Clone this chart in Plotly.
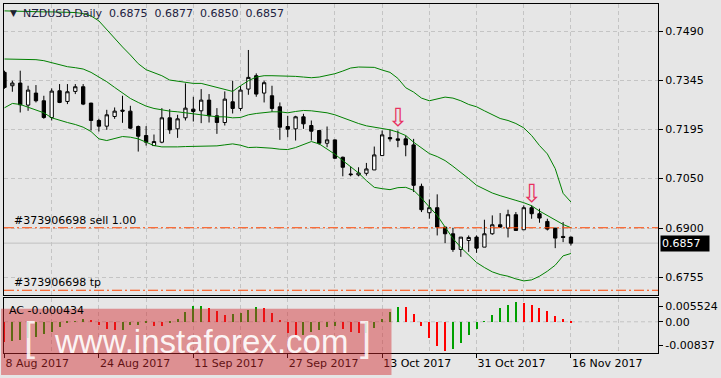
import pandas as pd
import plotly.graph_objects as go

# ---------------- data ----------------
dates = pd.bdate_range("2017-08-08", "2017-11-16")

opens = [0.7368, 0.7328, 0.7336, 0.7270, 0.7306, 0.7283, 0.7233, 0.7313, 0.7281, 0.7311,
         0.7325, 0.7276, 0.7224, 0.7207, 0.7236, 0.7255, 0.7252, 0.7206, 0.7179, 0.7149,
         0.7159, 0.7232, 0.7199, 0.7232, 0.7258, 0.7253, 0.7285, 0.7238, 0.7218, 0.7280,
         0.7260, 0.7318, 0.7358, 0.7306, 0.7298, 0.7265, 0.7206, 0.7199, 0.7235, 0.7209,
         0.7194, 0.7156, 0.7166, 0.7114, 0.7064, 0.7061, 0.7066, 0.7076, 0.7119, 0.7173,
         0.7169, 0.7169, 0.7151, 0.7027, 0.6948, 0.6963, 0.6905, 0.6885, 0.6838, 0.6865,
         0.6875, 0.6845, 0.6885, 0.6912, 0.6902, 0.6942, 0.6897, 0.6963, 0.6945, 0.6922,
         0.6902, 0.6877, 0.6875]
highs = [0.7373, 0.7343, 0.7373, 0.7328, 0.7330, 0.7298, 0.7320, 0.7333, 0.7333, 0.7333,
         0.7333, 0.7277, 0.7229, 0.7256, 0.7263, 0.7298, 0.7268, 0.7209, 0.7207, 0.7182,
         0.7261, 0.7258, 0.7241, 0.7335, 0.7295, 0.7318, 0.7303, 0.7261, 0.7311, 0.7343,
         0.7327, 0.7435, 0.7365, 0.7343, 0.7328, 0.7278, 0.7238, 0.7238, 0.7244, 0.7224,
         0.7195, 0.7206, 0.7167, 0.7116, 0.7086, 0.7084, 0.7097, 0.7146, 0.7194, 0.7197,
         0.7194, 0.7179, 0.7169, 0.7035, 0.6988, 0.7003, 0.6905, 0.6903, 0.6875, 0.6880,
         0.6880, 0.6927, 0.6940, 0.6947, 0.6957, 0.6950, 0.6970, 0.6970, 0.6960, 0.6930,
         0.6902, 0.6920, 0.6877]
lows = [0.7319, 0.7310, 0.7248, 0.7253, 0.7278, 0.7229, 0.7224, 0.7276, 0.7273, 0.7303,
        0.7270, 0.7194, 0.7191, 0.7196, 0.7229, 0.7217, 0.7199, 0.7131, 0.7149, 0.7148,
        0.7156, 0.7184, 0.7172, 0.7224, 0.7221, 0.7216, 0.7218, 0.7184, 0.7209, 0.7245,
        0.7253, 0.7301, 0.7295, 0.7278, 0.7250, 0.7166, 0.7174, 0.7164, 0.7199, 0.7164,
        0.7151, 0.7144, 0.7109, 0.7057, 0.7057, 0.7057, 0.7059, 0.7076, 0.7119, 0.7161,
        0.7144, 0.7117, 0.7010, 0.6950, 0.6930, 0.6880, 0.6857, 0.6831, 0.6816, 0.6831,
        0.6828, 0.6845, 0.6882, 0.6903, 0.6874, 0.6895, 0.6897, 0.6930, 0.6918, 0.6895,
        0.6842, 0.6860, 0.6850]
closes = [0.7323, 0.7336, 0.7271, 0.7315, 0.7283, 0.7233, 0.7312, 0.7278, 0.7310, 0.7325,
          0.7273, 0.7224, 0.7207, 0.7241, 0.7252, 0.7252, 0.7201, 0.7177, 0.7159, 0.7161,
          0.7232, 0.7196, 0.7229, 0.7261, 0.7251, 0.7285, 0.7238, 0.7218, 0.7288, 0.7260,
          0.7315, 0.7353, 0.7303, 0.7337, 0.7260, 0.7204, 0.7198, 0.7235, 0.7214, 0.7192,
          0.7156, 0.7166, 0.7111, 0.7084, 0.7062, 0.7067, 0.7079, 0.7121, 0.7181, 0.7169,
          0.7165, 0.7151, 0.7030, 0.6957, 0.6963, 0.6905, 0.6885, 0.6838, 0.6875, 0.6874,
          0.6842, 0.6885, 0.6912, 0.6905, 0.6942, 0.6895, 0.6963, 0.6945, 0.6932, 0.6899,
          0.6872, 0.6874, 0.6857]

bb_upper = [0.7552, 0.7551, 0.7550, 0.7550, 0.7549, 0.7549, 0.7549, 0.7549, 0.7549, 0.7547,
            0.7544, 0.7537, 0.7522, 0.7495, 0.7468, 0.7444, 0.7420, 0.7394, 0.7376, 0.7368,
            0.7358, 0.7345, 0.7341, 0.7338, 0.7335, 0.7335, 0.7329, 0.7325, 0.7318, 0.7311,
            0.7328, 0.7343, 0.7354, 0.7358, 0.7358, 0.7358, 0.7358, 0.7356, 0.7354, 0.7352,
            0.7354, 0.7358, 0.7364, 0.7372, 0.7381, 0.7384, 0.7384, 0.7383, 0.7375, 0.7368,
            0.7350, 0.7322, 0.7309, 0.7291, 0.7283, 0.7289, 0.7294, 0.7291, 0.7283, 0.7272,
            0.7265, 0.7253, 0.7242, 0.7230, 0.7224, 0.7215, 0.7202, 0.7179, 0.7149, 0.7124,
            0.7080, 0.7006, 0.6980]
bb_middle = [0.7408, 0.7408, 0.7408, 0.7406, 0.7406, 0.7403, 0.7397, 0.7390, 0.7385, 0.7382,
             0.7378, 0.7368, 0.7355, 0.7340, 0.7323, 0.7306, 0.7290, 0.7278, 0.7267, 0.7260,
             0.7255, 0.7252, 0.7250, 0.7247, 0.7244, 0.7241, 0.7238, 0.7235, 0.7235, 0.7232,
             0.7233, 0.7241, 0.7245, 0.7248, 0.7250, 0.7250, 0.7247, 0.7251, 0.7254, 0.7253,
             0.7251, 0.7247, 0.7241, 0.7232, 0.7224, 0.7215, 0.7208, 0.7204, 0.7200, 0.7196,
             0.7189, 0.7179, 0.7159, 0.7141, 0.7125, 0.7116, 0.7104, 0.7087, 0.7069, 0.7050,
             0.7030, 0.7018, 0.7007, 0.6999, 0.6993, 0.6985, 0.6978, 0.6969, 0.6953, 0.6940,
             0.6925, 0.6913, 0.6903]
bb_lower = [0.7262, 0.7275, 0.7272, 0.7263, 0.7256, 0.7247, 0.7232, 0.7224, 0.7218, 0.7212,
            0.7204, 0.7191, 0.7169, 0.7164, 0.7169, 0.7176, 0.7174, 0.7169, 0.7159, 0.7149,
            0.7145, 0.7144, 0.7145, 0.7146, 0.7146, 0.7146, 0.7147, 0.7148, 0.7151, 0.7154,
            0.7150, 0.7143, 0.7144, 0.7143, 0.7141, 0.7138, 0.7137, 0.7143, 0.7152, 0.7161,
            0.7154, 0.7139, 0.7123, 0.7104, 0.7086, 0.7067, 0.7044, 0.7024, 0.7020, 0.7017,
            0.7023, 0.7024, 0.7015, 0.6992, 0.6965, 0.6940, 0.6905, 0.6871, 0.6844, 0.6821,
            0.6799, 0.6784, 0.6771, 0.6763, 0.6758, 0.6750, 0.6744, 0.6747, 0.6758, 0.6773,
            0.6791, 0.6819, 0.6826]

ac_values = [-0.0071, -0.0070, -0.0065, -0.0057, -0.0053, -0.0045, -0.0035, -0.0018, -0.0006, 0.0002,
             0.0008, 0.0003, -0.0012, -0.0027, -0.0030, -0.0028, -0.0013, -0.0011, -0.0006, -0.0015,
             -0.0016, -0.0006, 0.0010, 0.0035, 0.0055, 0.0056, 0.0047, 0.0039, 0.0022, 0.0027,
             0.0031, 0.0042, 0.0053, 0.0047, 0.0032, 0.0003, -0.0040, -0.0047, -0.0046, -0.0036,
             -0.0030, -0.0018, -0.0017, -0.0026, -0.0035, -0.0041, -0.0040, -0.0024, 0.0008, 0.0035,
             0.0053, 0.0052, 0.0027, -0.0014, -0.0059, -0.0086, -0.0104, -0.0098, -0.0074, -0.0049,
             -0.0027, 0.0002, 0.0024, 0.0047, 0.0059, 0.0068, 0.0066, 0.0059, 0.0047, 0.0038,
             0.0020, 0.0009, -0.0004]

price_tick_vals = [0.7490, 0.7344, 0.7197, 0.7050, 0.6901, 0.6755]
price_tick_text = ["0.7490", "0.7345", "0.7195", "0.7050", "0.6900", "0.6755"]
ac_tick_vals = [0.005524, 0.0, -0.00837]
ac_tick_text = ["0.005524", "0.00", "-0.00837"]

sell_price = 0.6903
tp_price = 0.6716
last_price = closes[-1]
signal_idx = [50, 67]
signal_price = [0.7225, 0.6998]

symbol_title = "NZDUSD,Daily"
ac_label = "AC -0.000434"
order_id = "#373906698"

# ---------------- figure ----------------
x = list(range(len(dates)))
label_idx = list(range(0, len(dates), 12))
label_text = [f"{dates[i].day} {dates[i].strftime('%b %Y')}" for i in label_idx]

W, H = 721, 378
ML, MR, MT, MB = 3, 53, 3, 25
PW, PH = W - ML - MR, H - MT - MB


def px_x(p):
    return (p - ML) / PW


def px_y(p):
    return (H - MB - p) / PH


BG = "#e6e6e6"
GRID = "#c4c4c4"
FONT = "DejaVu Sans"

fig = go.Figure()

fig.add_trace(go.Candlestick(
    x=x, open=opens, high=highs, low=lows, close=closes,
    increasing=dict(line=dict(color="black", width=1), fillcolor="white"),
    decreasing=dict(line=dict(color="black", width=1), fillcolor="black"),
    whiskerwidth=0, showlegend=False, hoverinfo="skip",
    xaxis="x", yaxis="y"))

for band in (bb_upper, bb_middle, bb_lower):
    fig.add_trace(go.Scatter(x=x, y=band, mode="lines",
                             line=dict(color="#008000", width=1),
                             showlegend=False, hoverinfo="skip",
                             xaxis="x", yaxis="y"))

fig.add_trace(go.Scatter(x=signal_idx, y=signal_price, mode="text",
                         text=["⇩"] * len(signal_idx),
                         textfont=dict(family=FONT, size=25, color="#e8305f"),
                         textposition="middle center",
                         showlegend=False, hoverinfo="skip",
                         xaxis="x", yaxis="y"))

ac_colors = ["#00a000" if i > 0 and ac_values[i] > ac_values[i - 1] else "#ff0000"
             for i in range(len(ac_values))]
fig.add_trace(go.Bar(x=x, y=ac_values, width=0.13,
                     marker=dict(color=ac_colors, line=dict(width=0)),
                     showlegend=False, hoverinfo="skip",
                     xaxis="x2", yaxis="y2"))

xrange = [-0.0625, -0.0625 + PW / 8.0]
main_bottom = px_y(295)
ac_top = px_y(298)

axis_common = dict(showline=True, mirror=True, linecolor="black", linewidth=1,
                   zeroline=False)

fig.update_layout(
    width=W, height=H,
    margin=dict(l=ML, r=MR, t=MT, b=MB),
    paper_bgcolor=BG, plot_bgcolor=BG,
    boxgap=0.4,
    bargap=0,
    xaxis=dict(domain=[0, 1], anchor="y", range=xrange, matches="x2",
               showticklabels=False, ticks="",
               tickmode="array", tickvals=label_idx,
               showgrid=True, gridcolor=GRID, griddash="4px,3px", gridwidth=1,
               minor=dict(tick0=0, dtick=6, showgrid=True, gridcolor=GRID,
                          griddash="4px,3px", ticks=""),
               rangeslider=dict(visible=False), **axis_common),
    yaxis=dict(domain=[main_bottom, 1], anchor="x", side="right",
               range=[0.67013, 0.75726],
               tickmode="array", tickvals=price_tick_vals, ticktext=price_tick_text,
               ticks="outside", ticklen=4, tickcolor="black",
               tickfont=dict(family=FONT, size=11, color="black"),
               showgrid=True, gridcolor=GRID, griddash="4px,3px", **axis_common),
    xaxis2=dict(domain=[0, 1], anchor="y2", range=xrange,
                tickmode="array", tickvals=label_idx, ticktext=label_text,
                ticks="outside", ticklen=4, tickcolor="black",
                ticklabelposition="outside right",
                tickfont=dict(family=FONT, size=11, color="black"),
                showgrid=True, gridcolor=GRID, griddash="4px,3px",
                minor=dict(tick0=0, dtick=6, showgrid=True, gridcolor=GRID,
                           griddash="4px,3px", ticks=""),
                **axis_common),
    yaxis2=dict(domain=[0, ac_top], anchor="x2", side="right",
                range=[-0.01106, 0.00837],
                tickmode="array", tickvals=ac_tick_vals, ticktext=ac_tick_text,
                ticks="outside", ticklen=4, tickcolor="black",
                tickfont=dict(family=FONT, size=11, color="black"),
                showgrid=False, **axis_common),
    font=dict(family=FONT, size=11, color="black"),
)

shapes = [
    dict(type="line", xref="x domain", yref="y", x0=0, x1=1, y0=last_price, y1=last_price,
         line=dict(color="#c0c0c0", width=1), layer="below"),
    dict(type="line", xref="x domain", yref="y", x0=0, x1=1, y0=sell_price, y1=sell_price,
         line=dict(color="#ff4500", width=1, dash="10px,3px,2px,3px")),
    dict(type="line", xref="x domain", yref="y", x0=0, x1=1, y0=tp_price, y1=tp_price,
         line=dict(color="#ff4500", width=1, dash="10px,3px,2px,3px")),
    dict(type="line", xref="x2 domain", yref="y2", x0=0, x1=1, y0=0, y1=0,
         line=dict(color=GRID, width=1, dash="4px,3px"), layer="below"),
    # watermark box
    dict(type="rect", xref="paper", yref="paper",
         x0=px_x(0), x1=px_x(397), y0=px_y(375), y1=px_y(308.5),
         fillcolor="rgba(210,40,45,0.45)", line=dict(width=0), layer="above"),
]
fig.update_layout(shapes=shapes)

annotations = [
    dict(xref="paper", yref="paper", x=px_x(7), y=px_y(12), xanchor="left", yanchor="middle",
         text="▼", showarrow=False, font=dict(family=FONT, size=9, color="#202030")),
    dict(xref="paper", yref="paper", x=px_x(20), y=px_y(12.7), xanchor="left", yanchor="middle",
         text=f"{symbol_title}  " + "  ".join(f"{v:.4f}" for v in
                                              (opens[-1], highs[-1], lows[-1], closes[-1])),
         showarrow=False, font=dict(family=FONT, size=11, color="#202040")),
    dict(xref="paper", yref="y", x=px_x(11), y=sell_price, xanchor="left", yanchor="bottom",
         yshift=-1, text=f"{order_id} sell 1.00", showarrow=False,
         font=dict(family=FONT, size=11, color="black")),
    dict(xref="paper", yref="y", x=px_x(11), y=tp_price, xanchor="left", yanchor="bottom",
         yshift=-1, text=f"{order_id} tp", showarrow=False,
         font=dict(family=FONT, size=11, color="black")),
    dict(xref="paper", yref="paper", x=px_x(6), y=px_y(310), xanchor="left", yanchor="middle",
         text=ac_label, showarrow=False, font=dict(family=FONT, size=11, color="black")),
    dict(xref="paper", yref="y", x=px_x(670), y=last_price, xanchor="left", yanchor="middle",
         text=f"{last_price:.4f}", showarrow=False, bgcolor="black", borderpad=1,
         width=46, align="left",
         font=dict(family=FONT, size=11, color="white")),
    # watermark text
    dict(xref="paper", yref="paper", x=px_x(29), y=px_y(337), xanchor="center", yanchor="middle",
         text="[", showarrow=False,
         font=dict(family="Liberation Sans", size=40, color="rgba(255,255,255,0.85)")),
    dict(xref="paper", yref="paper", x=px_x(52), y=px_y(341.5), xanchor="left", yanchor="middle",
         text="www.instaforex.com", showarrow=False,
         font=dict(family="Liberation Sans", size=33, color="rgba(255,255,255,0.92)")),
    dict(xref="paper", yref="paper", x=px_x(371), y=px_y(337), xanchor="center", yanchor="middle",
         text="]", showarrow=False,
         font=dict(family="Liberation Sans", size=40, color="rgba(255,255,255,0.85)")),
]
fig.update_layout(annotations=annotations)

fig.write_html("out.html")
